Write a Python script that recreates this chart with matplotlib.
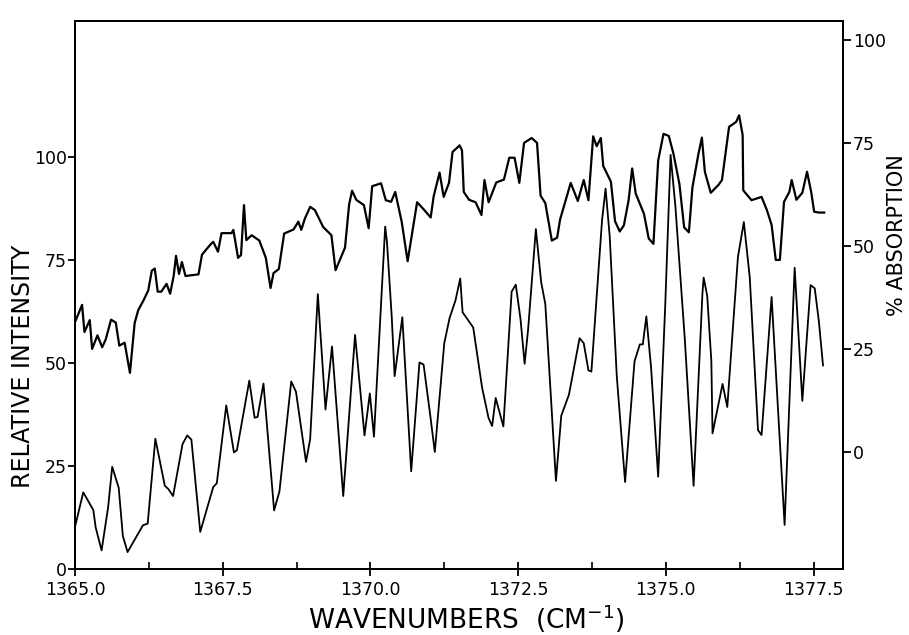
import matplotlib
matplotlib.use("Agg")
import matplotlib.pyplot as plt
from matplotlib.ticker import MultipleLocator, FormatStrFormatter

# Upper trace: % absorption (right axis)
abs_wn = [1365.00, 1365.12, 1365.16, 1365.25, 1365.29, 1365.38, 1365.46, 1365.52, 1365.61, 1365.69,
          1365.75, 1365.84, 1365.93, 1366.01, 1366.07, 1366.16, 1366.24, 1366.30, 1366.35, 1366.40,
          1366.46, 1366.55, 1366.61, 1366.67, 1366.71, 1366.76, 1366.81, 1366.87, 1367.09, 1367.15,
          1367.29, 1367.34, 1367.42, 1367.48, 1367.65, 1367.68, 1367.76, 1367.81, 1367.86, 1367.90,
          1367.99, 1368.12, 1368.23, 1368.31, 1368.36, 1368.45, 1368.54, 1368.70, 1368.78, 1368.83,
          1368.89, 1368.98, 1369.06, 1369.20, 1369.34, 1369.41, 1369.48, 1369.57, 1369.64, 1369.69,
          1369.76, 1369.89, 1369.97, 1370.03, 1370.18, 1370.26, 1370.35, 1370.42, 1370.53, 1370.63,
          1370.73, 1370.79, 1370.90, 1371.02, 1371.07, 1371.17, 1371.24, 1371.33, 1371.39, 1371.51,
          1371.55, 1371.58, 1371.67, 1371.78, 1371.88, 1371.93, 1372.00, 1372.13, 1372.26, 1372.35,
          1372.44, 1372.52, 1372.60, 1372.73, 1372.82, 1372.88, 1372.96, 1373.07, 1373.16, 1373.21,
          1373.39, 1373.51, 1373.61, 1373.69, 1373.77, 1373.83, 1373.90, 1373.94, 1374.07, 1374.14,
          1374.22, 1374.29, 1374.37, 1374.43, 1374.49, 1374.63, 1374.71, 1374.79, 1374.87, 1374.96,
          1375.05, 1375.13, 1375.23, 1375.31, 1375.39, 1375.45, 1375.55, 1375.61, 1375.66, 1375.76,
          1375.89, 1375.95, 1376.07, 1376.19, 1376.24, 1376.30, 1376.31, 1376.45, 1376.62, 1376.71,
          1376.79, 1376.86, 1376.93, 1377.00, 1377.09, 1377.13, 1377.21, 1377.31, 1377.39, 1377.46,
          1377.51, 1377.59, 1377.68]
absorption = [31.5, 35.7, 29.1, 32.0, 25.0, 28.3, 25.4, 27.3, 32.1, 31.4,
              25.8, 26.5, 19.2, 31.3, 34.4, 36.8, 39.2, 44.0, 44.5, 38.9,
              38.9, 40.8, 38.4, 42.7, 47.6, 43.2, 46.1, 42.7, 43.1, 47.9,
              50.3, 51.0, 48.6, 53.1, 53.1, 53.9, 47.1, 47.8, 59.9, 51.4,
              52.6, 51.3, 47.1, 39.8, 43.4, 44.4, 53.0, 54.0, 55.9, 53.9,
              56.6, 59.5, 58.7, 54.6, 52.6, 44.1, 46.5, 49.6, 60.1, 63.4,
              61.2, 59.9, 54.3, 64.5, 65.2, 61.1, 60.7, 63.1, 55.8, 46.3,
              55.3, 60.6, 58.9, 56.9, 62.0, 67.8, 61.9, 65.3, 72.8, 74.4,
              73.2, 63.1, 61.2, 60.6, 57.5, 66.0, 60.6, 65.4, 66.1, 71.4,
              71.4, 65.3, 75.0, 76.2, 75.0, 62.2, 60.4, 51.3, 52.0, 56.4,
              65.3, 60.9, 66.0, 61.1, 76.6, 74.2, 76.2, 69.4, 65.6, 56.0,
              53.5, 55.0, 61.1, 68.8, 62.7, 57.8, 51.8, 50.5, 70.7, 77.2,
              76.7, 72.3, 65.0, 54.5, 53.3, 64.2, 72.2, 76.3, 68.0, 62.9,
              64.8, 66.0, 78.9, 80.1, 81.7, 76.9, 63.5, 61.1, 61.9, 58.7,
              55.1, 46.6, 46.6, 60.7, 63.1, 66.0, 61.2, 62.9, 68.0, 63.1,
              58.3, 58.1, 58.1]

# Lower trace: relative intensity (left axis)
int_wn = [1365.00, 1365.14, 1365.31, 1365.35, 1365.45, 1365.56, 1365.63, 1365.74, 1365.81, 1365.89,
          1366.15, 1366.23, 1366.36, 1366.52, 1366.58, 1366.66, 1366.82, 1366.90, 1366.97, 1367.12,
          1367.34, 1367.40, 1367.56, 1367.69, 1367.74, 1367.95, 1368.04, 1368.09, 1368.19, 1368.37,
          1368.46, 1368.66, 1368.74, 1368.91, 1368.98, 1369.11, 1369.24, 1369.35, 1369.54, 1369.74,
          1369.90, 1369.99, 1370.06, 1370.25, 1370.28, 1370.36, 1370.41, 1370.54, 1370.69, 1370.83,
          1370.90, 1371.00, 1371.09, 1371.25, 1371.34, 1371.44, 1371.52, 1371.56, 1371.74, 1371.89,
          1372.00, 1372.06, 1372.12, 1372.25, 1372.39, 1372.46, 1372.54, 1372.61, 1372.67, 1372.80,
          1372.89, 1372.96, 1373.14, 1373.23, 1373.36, 1373.54, 1373.61, 1373.69, 1373.74, 1373.92,
          1373.98, 1374.05, 1374.17, 1374.31, 1374.47, 1374.56, 1374.61, 1374.67, 1374.75, 1374.87,
          1374.99, 1375.08, 1375.16, 1375.32, 1375.47, 1375.62, 1375.64, 1375.70, 1375.77, 1375.79,
          1375.96, 1376.04, 1376.22, 1376.32, 1376.42, 1376.56, 1376.62, 1376.79, 1377.01, 1377.18,
          1377.31, 1377.45, 1377.52, 1377.59, 1377.66]
intensity = [10.2, 18.6, 14.3, 10.1, 4.5, 14.9, 24.8, 19.7, 8.0, 4.1,
             10.6, 11.0, 31.6, 20.2, 19.4, 17.7, 30.3, 32.4, 31.4, 9.0,
             19.9, 20.8, 39.7, 28.3, 28.8, 45.7, 36.7, 36.9, 45.0, 14.2,
             18.8, 45.5, 43.0, 26.0, 31.5, 66.7, 38.7, 54.0, 17.7, 56.8,
             32.4, 42.6, 32.1, 83.1, 79.4, 61.4, 46.8, 61.1, 23.7, 50.1,
             49.6, 38.7, 28.4, 54.8, 60.9, 65.2, 70.5, 62.3, 58.6, 44.0,
             36.6, 34.7, 41.5, 34.6, 67.3, 69.0, 60.7, 49.8, 58.3, 82.5,
             69.6, 64.3, 21.4, 37.2, 42.3, 56.0, 54.8, 48.2, 47.9, 84.6,
             92.3, 80.7, 46.7, 21.1, 50.4, 54.5, 54.5, 61.3, 48.9, 22.4,
             64.1, 100.5, 88.3, 56.0, 20.2, 67.0, 70.7, 66.3, 50.5, 32.9,
             44.9, 39.3, 75.7, 84.2, 70.8, 33.7, 32.5, 66.0, 10.7, 73.1,
             40.8, 68.9, 68.1, 60.1, 49.4]

left_ticks = [0, 25, 50, 75, 100]
right_ticks = [0, 25, 50, 75, 100]

plt.rcParams['font.family'] = ['DejaVu Sans']

fig = plt.figure(figsize=(9.09, 6.35), dpi=100)
ax = fig.add_axes([0.0825, 0.104, 0.845, 0.863])
ax2 = ax.twinx()

ax.plot(int_wn, intensity, color='black', lw=1.3)
ax2.plot(abs_wn, absorption, color='black', lw=1.6)

ax.set_xlim(1365.0, 1378.0)
ax.set_ylim(0, 133)
ax2.set_ylim(-28.4, 104.6)

for a in (ax, ax2):
    for s in a.spines.values():
        s.set_linewidth(1.4)

# x axis: ticks point into the frame
ax.xaxis.set_major_locator(MultipleLocator(2.5))
ax.xaxis.set_minor_locator(MultipleLocator(1.25))
ax.xaxis.set_major_formatter(FormatStrFormatter('%.1f'))
ax.tick_params(axis='x', which='major', direction='inout', length=10, width=1.3,
               labelsize=12.5, pad=4)
ax.tick_params(axis='x', which='minor', direction='in', length=5, width=1.2)

ax.set_yticks(left_ticks)
ax.tick_params(axis='y', direction='out', length=5, width=1.3, labelsize=12.5, pad=1)
ax2.set_yticks(right_ticks)
ax2.tick_params(axis='y', direction='out', length=6, width=1.3, labelsize=12.5, pad=1)

ax.set_xlabel('WAVENUMBERS  (CM$^{-1}$)', fontsize=19)
ax.xaxis.set_label_coords(0.51, -0.062)
ax.set_ylabel('RELATIVE INTENSITY', fontsize=17)
ax.yaxis.set_label_coords(-0.052, 0.37)
ax2.set_ylabel('% ABSORPTION', fontsize=15)
ax2.yaxis.set_label_coords(1.057, 0.61)

fig.savefig('out.png', dpi=100, facecolor='white')
